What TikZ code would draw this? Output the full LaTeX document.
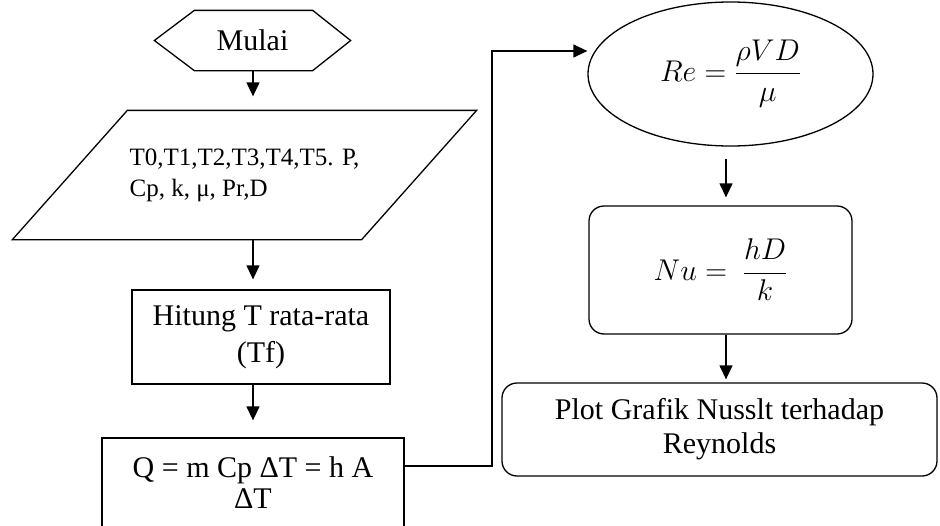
\documentclass[tikz,border=0pt]{standalone}
\usepackage{fix-cm}
\usepackage{fontspec}
\setmainfont{Liberation Serif}
\usetikzlibrary{shapes.geometric,arrows.meta}

\begin{document}
\begin{tikzpicture}[x=1pt,y=-1pt,line width=1.3pt,
    font=\fontsize{30}{35}\selectfont,
    box/.style={draw,align=center,inner sep=0pt},
    rbox/.style={box,rounded corners=15pt},
    arr/.style={-{Triangle[length=14pt,width=13pt]}}]
    \useasboundingbox (0,0) rectangle (940,525);

    % left column
    \node (mulai) at (252.5,40.5) [minimum width=195pt,minimum height=59pt,inner sep=0pt] {Mulai};
    \draw (mulai.west) -- ([xshift=40pt]mulai.north west) -- ([xshift=-38pt]mulai.north east)
        -- (mulai.east) -- ([xshift=-38pt]mulai.south east) -- ([xshift=40pt]mulai.south west) -- cycle;

    \node (param) at (244.5,175) [minimum width=348pt,minimum height=128pt,align=left,inner sep=0pt,
        font=\fontsize{25}{31}\selectfont] {T0,T1,T2,T3,T4,T5. P,\\Cp, k, μ, Pr,D};
    \draw ([xshift=-57.5pt]param.south west) -- ([xshift=-57.5pt]param.south east)
        -- ([xshift=57.5pt]param.north east) -- ([xshift=57.5pt]param.north west) -- cycle;

    \node (hitung) at (261,337) [box,minimum width=258pt,minimum height=94pt,
        font=\fontsize{30}{37}\selectfont] {Hitung T rata-rata\\(Tf)};
    \node (q) at (253,483) [box,minimum width=302pt,minimum height=90pt,
        font=\fontsize{30}{31}\selectfont] {Q = m Cp ΔT = h A\\ΔT};

    % right column
    \node (re) at (730.5,74) [draw,ellipse,minimum width=285pt,minimum height=144pt,inner sep=0pt]
        {$\displaystyle Re = \frac{\rho VD}{\mu}$};
    \node (nu) at (720.5,270) [rbox,minimum width=263pt,minimum height=128pt]
        {$\displaystyle Nu =\ \frac{hD}{k}$};
    \node (plot) at (719.5,429.5) [rbox,minimum width=435pt,minimum height=93pt,
        font=\fontsize{30}{34}\selectfont] {Plot Grafik Nusslt terhadap\\Reynolds};

    \coordinate (lx) at (253,0);
    \coordinate (rx) at (726,0);
    \coordinate (bend) at (492,51);
    \draw[arr,shorten >=14pt] (lx |- mulai.south) -- (lx |- param.north);
    \draw[arr,shorten >=10pt] (lx |- param.south) -- (lx |- hitung.north);
    \draw[arr,shorten >=17pt] (lx |- hitung.south) -- (lx |- q.north);
    \draw[arr] ([yshift=17pt]q.east) -| (bend) -- (bend -| re.west);
    \draw[arr,shorten <=12pt,shorten >=8pt] (rx |- re.south) -- (rx |- nu.north);
    \draw[arr,shorten >=3pt] (rx |- nu.south) -- (rx |- plot.north);
\end{tikzpicture}
\end{document}
